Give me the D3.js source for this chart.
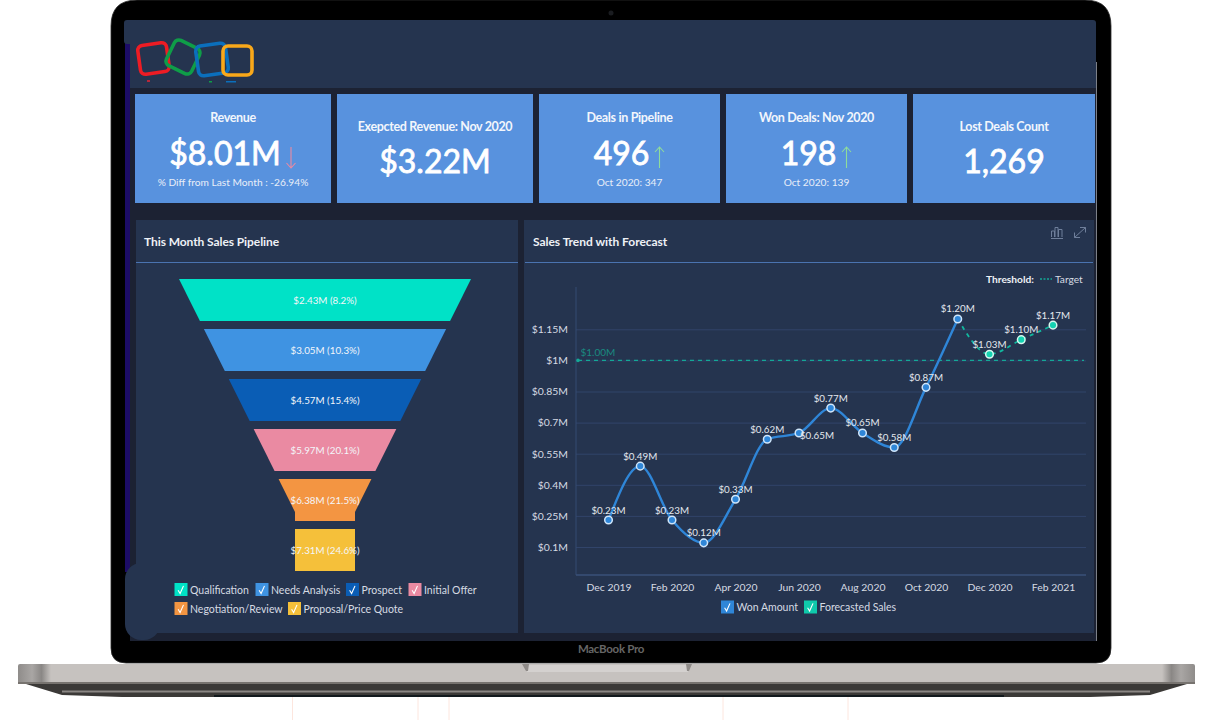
<!DOCTYPE html>
<html>
<head>
<meta charset="utf-8">
<title>Sales dashboard</title>
<script src="https://cdn.jsdelivr.net/npm/d3@7"></script>
<style>
  html, body { margin: 0; padding: 0; background: #fff; }
  svg { display: block; font-family: Lato, "Open Sans", sans-serif; }
  .axis text { fill: #d6dbe3; font-size: 10.4px; font-family: Lato, sans-serif; }
  .axis .domain { stroke: #3a5078; }
  .axis line { stroke: #31446a; }
</style>
</head>
<body>
<svg id="chart" width="1212" height="720"></svg>
<script>
// --- DATA ---
const cardTitles = ["Revenue", "Exepcted Revenue: Nov 2020", "Deals in Pipeline", "Won Deals: Nov 2020", "Lost Deals Count"];
const cardValues = ["$8.01M", "$3.22M", "496", "198", "1,269"];
const cardNotes = ["% Diff from Last Month : -26.94%", "", "Oct 2020: 347", "Oct 2020: 139", ""];
const cardTrends = ["down", "", "up", "up", ""];

const stages = ["Qualification", "Needs Analysis", "Prospect", "Initial Offer", "Negotiation/Review", "Proposal/Price Quote"];
const stageAmounts = [2.43, 3.05, 4.57, 5.97, 6.38, 7.31];
const stageShares = [8.2, 10.3, 15.4, 20.1, 21.5, 24.6];
const stageColors = ["#00e2c7", "#3f93e2", "#0a5db5", "#ea8aa2", "#f39542", "#f5c03a"];

const months = ["Dec 2019", "Jan 2020", "Feb 2020", "Mar 2020", "Apr 2020", "May 2020", "Jun 2020", "Jul 2020",
  "Aug 2020", "Sep 2020", "Oct 2020", "Nov 2020", "Dec 2020", "Jan 2021", "Feb 2021"];
const monthTicks = ["Dec 2019", "Feb 2020", "Apr 2020", "Jun 2020", "Aug 2020", "Oct 2020", "Dec 2020", "Feb 2021"];
const wonAmount = [0.23, 0.49, 0.23, 0.12, 0.33, 0.62, 0.65, 0.77, 0.65, 0.58, 0.87, 1.20];
const forecastMonths = ["Nov 2020", "Dec 2020", "Jan 2021", "Feb 2021"];
const forecastSales = [1.20, 1.03, 1.10, 1.17];
const valueTicks = [0.1, 0.25, 0.4, 0.55, 0.7, 0.85, 1, 1.15];
const targetValue = 1;

// --- CONFIGURATION ---
const PANEL = "#25344f", BACKDROP = "#1c2233", CARD = "#5892de", RULE = "#4a73b0";
const TEXT = "#d6dbe3", LINE_BLUE = "#2f86d8", TEAL = "#14a896";

const svg = d3.select("#chart");
const defs = svg.append("defs");

function rect(parent, x, y, w, h, fill, rx) {
  return parent.append("rect").attr("x", x).attr("y", y).attr("width", w).attr("height", h)
    .attr("fill", fill).attr("rx", rx || 0);
}
function label(parent, x, y, str, size, fill, anchor, weight) {
  return parent.append("text").attr("x", x).attr("y", y).text(str)
    .attr("font-size", size).attr("fill", fill)
    .attr("text-anchor", anchor || "start").attr("font-weight", weight || 400);
}

// --- LAPTOP ---
const laptop = svg.append("g");
const pinkLines = [292.5, 418, 449, 723, 848];
pinkLines.forEach(x => laptop.append("line").attr("x1", x).attr("x2", x).attr("y1", 697).attr("y2", 720)
  .attr("stroke", "#fde6de"));

const sideGrad = defs.append("linearGradient").attr("id", "side");
[[0, "#8f8c8a"], [0.012, "#a9a6a4"], [0.02, "#8a8785"], [0.028, "#c6c2bf"], [0.972, "#c6c2bf"], [0.98, "#8a8785"], [0.988, "#a9a6a4"], [1, "#8f8c8a"]]
  .forEach(s => sideGrad.append("stop").attr("offset", s[0]).attr("stop-color", s[1]));

laptop.append("path").attr("d", "M26,684 L1187,684 L1150,695 L1090,697 L122,697 L62,695 Z").attr("fill", "#3b3937");
rect(laptop, 62, 690.5, 1088, 2, "#8a8683");
rect(laptop, 214, 695, 790, 2, "#12191d");
rect(laptop, 18, 664, 1177, 20, "url(#side)", 2);
rect(laptop, 18, 682, 1177, 2, "#77736f");

// bezel
laptop.append("path")
  .attr("d", "M137,0 H1085 Q1111,0 1111,26 V648 Q1111,663 1096,663 H126 Q111,663 111,648 V26 Q111,0 137,0 Z")
  .attr("fill", "#000").attr("stroke", "#2c2c2c").attr("stroke-width", 0.8);
laptop.append("circle").attr("cx", 611).attr("cy", 13).attr("r", 2.5).attr("fill", "#1a1c20");
label(laptop, 611, 653, "MacBook Pro", 11.5, "#666", "middle", 700).attr("letter-spacing", -0.3);

// hinge notch
rect(laptop, 527, 665, 161, 7, "#d4d1cf");
laptop.append("path").attr("d", "M522,664 H529 L528,671 H526 Z M686,664 H692 L689,671 H687 Z").attr("fill", "#8f8b88");

// --- SCREEN ---
const screen = svg.append("g");
rect(screen, 125, 42, 5, 530, "#1c0c66");
rect(screen, 130, 40, 966, 601, BACKDROP);
rect(screen, 1096, 62, 1, 579, "#7d8088");
rect(screen, 124, 20, 972, 24, PANEL, 3);
rect(screen, 130, 30, 966, 58, PANEL);
rect(screen, 125, 563, 35, 77, PANEL, 16);

// logo
const logoLinks = [
  { c: "#ed1c24", x: 153.5, y: 58.5, s: 29, r: -8 },
  { c: "#0f9d48", x: 183, y: 57, s: 28, r: 26 },
  { c: "#0b6fbc", x: 212, y: 59.5, s: 30, r: -8 },
  { c: "#f9a81a", x: 237.5, y: 60.5, s: 29, r: 0 }
];
logoLinks.forEach(k => {
  screen.append("rect").attr("x", -k.s / 2).attr("y", -k.s / 2).attr("width", k.s).attr("height", k.s).attr("rx", 5)
    .attr("fill", "none").attr("stroke", k.c).attr("stroke-width", 3.6)
    .attr("transform", `translate(${k.x},${k.y}) rotate(${k.r})`);
});
rect(screen, 147, 80, 3, 2, "#b5283a");
rect(screen, 209, 81, 3, 1.5, "#0f9d48");
rect(screen, 226, 81, 10, 1.5, "#0b6fbc");

// --- KPI CARDS ---
const cardX = [135, 337, 539, 726, 913];
const cardW = [196, 196, 181, 181, 182];
const cardTop = 94, cardH = 109;
cardTitles.forEach((t, i) => {
  const g = screen.append("g");
  const cx = cardX[i] + cardW[i] / 2;
  const hasNote = cardNotes[i] !== "";
  rect(g, cardX[i], cardTop, cardW[i], cardH, CARD);
  label(g, cx, hasNote ? 122 : 130.5, t, 12.5, "#f2f6fc", "middle", 700).attr("letter-spacing", -0.35);
  const valueX = cardTrends[i] ? cx - 8 : cx;
  label(g, valueX, hasNote ? 165 : 173, cardValues[i], 32, "#fff", "middle", 400)
    .attr("stroke", "#fff").attr("stroke-width", 0.8);
  if (hasNote) label(g, cx, 186, cardNotes[i], 10.2, "#e8eef8", "middle");
  if (cardTrends[i]) {
    const up = cardTrends[i] === "up";
    const ax = cx + 30 + (i === 0 ? 28 : 0);
    const col = up ? "#8fdc9b" : "#ea8aa2";
    const tip = up ? 147 : 168, tail = up ? 168 : 147;
    const dir = up ? 5 : -5;
    g.append("path").attr("d", `M${ax},${tail} V${tip} M${ax - 4.5},${tip + dir} L${ax},${tip} L${ax + 4.5},${tip + dir}`)
      .attr("fill", "none").attr("stroke", col).attr("stroke-width", 1.1);
  }
});

// --- PANELS ---
rect(screen, 136, 220, 382, 413, PANEL);
rect(screen, 524, 220, 570, 413, PANEL);
rect(screen, 136, 262, 382, 1, RULE);
rect(screen, 525, 262, 568, 1, RULE);
label(screen, 144, 246, "This Month Sales Pipeline", 12, "#eef1f6", "start", 700).attr("letter-spacing", -0.08);
label(screen, 533, 246, "Sales Trend with Forecast", 12, "#eef1f6", "start", 700).attr("letter-spacing", -0.03);

// panel icons
const iconCol = "#6f7f9b";
screen.append("path")
  .attr("d", "M1051.5,237 V231 H1054.5 V237 M1055,237 V227.5 H1058 V237 M1058.5,237 V229.5 H1062 V237 M1051,238.5 H1063")
  .attr("fill", "none").attr("stroke", iconCol);
screen.append("path")
  .attr("d", "M1074.5,237.5 L1085.5,227.5 M1080,227.5 H1085.5 V232.5 M1074.5,232.5 V237.5 H1080")
  .attr("fill", "none").attr("stroke", iconCol);

// --- FUNNEL ---
const funnel = screen.append("g");
const funnelY = d3.scaleBand().domain(stages).range([279, 571]).paddingInner(0.16);
const funnelHalf = d3.scaleLinear().domain([279, 512]).range([146, 30]).clamp(true);
const funnelCx = 325;
const neckY = funnelHalf.domain()[1];

function funnelPath(stage) {
  const top = funnelY(stage), bottom = top + funnelY.bandwidth();
  const ys = top < neckY && bottom > neckY ? [top, neckY, bottom] : [top, bottom];
  const pts = ys.map(y => [funnelCx + funnelHalf(y), y])
    .concat(ys.slice().reverse().map(y => [funnelCx - funnelHalf(y), y]));
  return d3.line()(pts) + "Z";
}

funnel.selectAll("path").data(stages).enter().append("path")
  .attr("d", funnelPath)
  .attr("fill", (d, i) => stageColors[i]);
funnel.selectAll("text").data(stages).enter().append("text")
  .attr("x", funnelCx)
  .attr("y", d => funnelY(d) + funnelY.bandwidth() / 2 + 4)
  .attr("text-anchor", "middle")
  .attr("font-size", 9.8)
  .attr("fill", "#f3f6fa")
  .text((d, i) => `$${stageAmounts[i].toFixed(2)}M (${stageShares[i]}%)`);

// --- LEGENDS ---
function legendItem(parent, x, y, name, color) {
  rect(parent, x, y - 6.5, 13, 13, color);
  parent.append("path").attr("d", `M${x + 3.6},${y + 0.8} L${x + 5.6},${y + 4} L${x + 9},${y - 3.6}`)
    .attr("fill", "none").attr("stroke", "#fff").attr("stroke-width", 1.1);
  label(parent, x + 15.5, y + 4, name, 10.5, TEXT);
}
const legendSpots = [[174.5, 589.5], [255.5, 589.5], [346, 589.5], [408.5, 589.5], [174.5, 608.5], [288, 608.5]];
stages.forEach((s, i) => legendItem(screen, legendSpots[i][0], legendSpots[i][1], s, stageColors[i]));
legendItem(screen, 721, 607, "Won Amount", LINE_BLUE);
legendItem(screen, 804, 607, "Forecasted Sales", "#0fc9ab");

// threshold legend
label(screen, 986, 283, "Threshold:", 10.2, "#eef1f6", "start", 700);
screen.append("line").attr("x1", 1040).attr("x2", 1052).attr("y1", 279).attr("y2", 279)
  .attr("stroke", TEAL).attr("stroke-width", 1.4).attr("stroke-dasharray", "2 1.5");
label(screen, 1055, 283, "Target", 10.2, TEXT);

// --- TREND CHART ---
const plotLeft = 576, plotRight = 1086, plotTop = 287, plotBottom = 575;
const x = d3.scalePoint().domain(months).range([608.5, 1053]);
const y = d3.scaleLinear().domain([0.1, 1.15]).range([547, 329.3]);
const trend = screen.append("g");

const yAxis = trend.append("g").attr("class", "axis")
  .attr("transform", `translate(${plotLeft},0)`)
  .call(d3.axisLeft(y).tickValues(valueTicks).tickFormat(v => `$${v}M`)
    .tickSize(-(plotRight - plotLeft)).tickPadding(8));
yAxis.select(".domain").remove();
trend.append("line").attr("x1", plotLeft).attr("x2", plotLeft).attr("y1", plotTop).attr("y2", plotBottom)
  .attr("stroke", "#354a72");

const xAxis = trend.append("g").attr("class", "axis")
  .attr("transform", `translate(0,${plotBottom})`)
  .call(d3.axisBottom(x).tickValues(monthTicks).tickSize(0).tickPadding(9));
xAxis.select(".domain").attr("d", `M${plotLeft},0H${plotRight}`).attr("stroke-width", 1.6);

// target line
trend.append("line").attr("x1", plotLeft + 2).attr("x2", plotRight - 2)
  .attr("y1", y(targetValue)).attr("y2", y(targetValue))
  .attr("stroke", TEAL).attr("stroke-width", 1.4).attr("stroke-dasharray", "4 4");
trend.append("circle").attr("cx", plotLeft + 2).attr("cy", y(targetValue)).attr("r", 1.8).attr("fill", TEAL);
label(trend, 580.5, y(targetValue) - 4.5, `$${targetValue.toFixed(2)}M`, 10, "#1a8a80");

// series
const wonPoints = wonAmount.map((v, i) => ({ m: months[i], v }));
const forecastPoints = forecastSales.map((v, i) => ({ m: forecastMonths[i], v }));
const lineGen = d3.line().x(d => x(d.m)).y(d => y(d.v)).curve(d3.curveMonotoneX);

trend.append("path").attr("d", lineGen(wonPoints)).attr("fill", "none")
  .attr("stroke", LINE_BLUE).attr("stroke-width", 2.4);
trend.append("path").attr("d", lineGen(forecastPoints)).attr("fill", "none")
  .attr("stroke", "#12b89f").attr("stroke-width", 1.8).attr("stroke-dasharray", "4 4.5");

function drawPoints(points, fill, stroke) {
  trend.append("g").selectAll("circle").data(points).enter().append("circle")
    .attr("cx", d => x(d.m)).attr("cy", d => y(d.v)).attr("r", 3.8)
    .attr("fill", fill).attr("stroke", stroke).attr("stroke-width", 1.5);
}
drawPoints(wonPoints, "#2f86d8", "#cfe5fa");
drawPoints(forecastPoints.slice(1), "#14d2b2", "#d6f8ef");

// value labels sit above the points, June is pushed aside
const labelNudge = { "Jun 2020": [18, 13] };
function drawLabels(points) {
  trend.append("g").selectAll("text").data(points).enter().append("text")
    .attr("x", d => x(d.m) + (labelNudge[d.m] ? labelNudge[d.m][0] : 0))
    .attr("y", d => y(d.v) - 6.5 + (labelNudge[d.m] ? labelNudge[d.m][1] : 0))
    .attr("text-anchor", "middle").attr("font-size", 9.8).attr("fill", "#e4e8ee")
    .text(d => `$${d.v.toFixed(2)}M`);
}
drawLabels(wonPoints);
drawLabels(forecastPoints.slice(1));
</script>
</body>
</html>
